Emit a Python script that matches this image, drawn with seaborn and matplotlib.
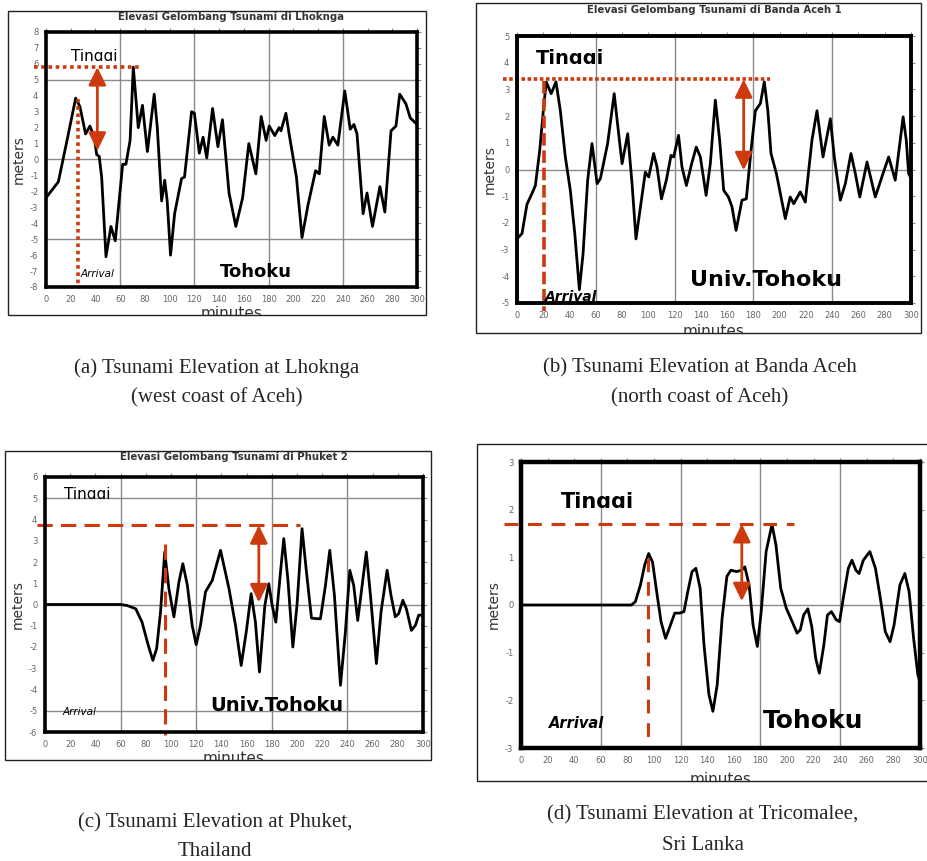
import matplotlib
matplotlib.use("Agg")
import matplotlib.pyplot as plt
import seaborn as sns
from matplotlib.patches import Rectangle
from matplotlib.transforms import Bbox, TransformedBbox

# ---------------- data ----------------
minutes_ticks = list(range(0, 301, 20))

lhoknga_t = [0, 10, 17, 24, 27.5, 32, 35.5, 39, 41, 43, 45, 48.5, 52.5, 56, 62, 64.6, 68, 70.6, 74.6, 78,
             82, 87.5, 90, 93.5, 96, 98, 100.7, 104, 109.6, 112, 117.7, 120, 124, 127, 130, 134.7, 139,
             142.7, 148, 153.5, 159, 164, 169.7, 174, 178, 180.5, 185, 188.5, 190, 194, 196.6, 202.5,
             207, 212, 218, 221, 225, 229, 232, 236, 241.6, 246, 249, 251.5, 256.4, 259.6, 264, 270,
             274, 279, 283, 286, 291, 294.6, 298, 300]
lhoknga_m = [-2.4, -1.4, 1.2, 3.85, 3.3, 1.6, 2.1, 1.4, 0.3, 0.2, -1.1, -6.1, -4.2, -5.1, -0.3, -0.3, 1.2,
             5.8, 2.0, 3.4, 0.5, 4.1, 2.0, -2.6, -1.3, -2.6, -6.0, -3.4, -1.2, -1.1, 3.0, 2.9, 0.4, 1.4,
             0.1, 3.2, 0.8, 2.5, -2.1, -4.2, -2.4, 1.0, -0.9, 2.7, 1.2, 2.1, 1.5, 2.0, 1.8, 2.9, 1.6,
             -1.1, -4.9, -2.8, -0.7, -0.9, 2.7, 0.9, 1.4, 0.9, 4.3, 1.9, 2.2, 1.6, -3.4, -2.1, -4.2,
             -1.7, -3.3, 1.8, 2.1, 4.1, 3.5, 2.6, 2.35, 2.2]

banda_t = [0, 3.8, 7.6, 11.4, 14, 17.3, 20.3, 22.3, 26, 29.7, 33, 36.8, 40.6, 44, 47.5, 50.3, 53.8, 57.1,
           61, 63.5, 69, 74, 77.4, 80, 84.3, 87.6, 90.6, 94, 97.7, 100.3, 104, 106.6, 110, 113.7, 117.3,
           119.3, 123, 125.6, 129, 133, 136.5, 139.6, 144, 147.2, 151, 154.3, 157.4, 161, 163.7, 166.8,
           171.3, 174.6, 178.2, 181.5, 185.3, 188.3, 191, 193.4, 197.5, 204.3, 208, 210.7, 215.7, 219.5,
           224.6, 228.4, 233, 238.6, 241.6, 246.2, 250, 254.3, 257.6, 261, 266.5, 272.8, 278.7, 283,
           288, 294, 296.4, 298.2, 299.5]
banda_m = [-2.6, -2.4, -1.3, -0.9, -0.6, 0.72, 2.34, 3.28, 2.84, 3.28, 2.2, 0.47, -0.78, -2.4, -4.5,
           -3.15, -0.4, 0.97, -0.53, -0.34, 0.97, 2.84, 1.34, 0.22, 1.34, -0.53, -2.6, -1.4, -0.1, -0.28,
           0.6, 0.1, -1.1, -0.4, 0.53, 0.47, 1.28, 0.1, -0.6, 0.22, 0.84, 0.47, -0.97, 0.22, 2.6, 1.1,
           -0.78, -1.03, -1.4, -2.28, -1.15, -1.1, 0.72, 2.2, 2.47, 3.28, 2.2, 0.6, -0.15, -1.84, -1.03,
           -1.28, -0.84, -1.22, 1.1, 2.2, 0.47, 1.9, 0.47, -1.15, -0.53, 0.6, -0.15, -1.03, 0.28, -1.03,
           -0.15, 0.47, -0.4, 1.97, 1.1, -0.15, -0.28]

phuket_t = [0, 60, 65.3, 72, 77, 82, 85.6, 88.6, 91.7, 95, 98.3, 102.3, 106.3, 109.4, 113, 116.8, 120,
            123.4, 127.4, 132.7, 139.3, 146, 151.2, 155.7, 159.7, 163.6, 167, 170.2, 174.5, 177.6, 180.3,
            183.2, 186.9, 189.5, 192.7, 196.7, 200, 204, 207.5, 211.5, 216, 218.6, 222.6, 226, 229.7,
            234.5, 238.4, 241.9, 245, 248.2, 251.7, 255, 258.3, 263, 266.7, 271.5, 274.6, 278, 280.7,
            284, 286.8, 290.8, 294, 296.6, 298.4, 300]
phuket_m = [0, 0, -0.05, -0.2, -0.83, -1.93, -2.63, -2.08, -0.35, 2.47, 0.75, -0.58, 1.06, 1.92, 0.9,
            -0.98, -1.89, -0.98, 0.6, 1.13, 2.55, 0.75, -0.98, -2.87, -1.3, 0.51, -0.83, -3.18, -0.04,
            0.98, -0.04, -0.83, 1.53, 3.1, 1.22, -2.0, -0.04, 3.57, 1.53, -0.64, -0.67, -0.67, 0.9, 2.55,
            0.43, -3.8, -1.3, 1.61, 0.9, -0.75, 0.9, 2.47, 0.43, -2.78, -0.35, 1.61, 0.43, -0.58, -0.43,
            0.2, -0.2, -1.22, -0.98, -0.5, -0.5, -0.55]

trinco_t = [0, 83, 86, 89.8, 93, 96, 98.9, 102, 105.3, 108.7, 112, 115.6, 119.3, 122.5, 125.4, 128.6,
            131.5, 134.7, 137.6, 141.3, 144.3, 147.5, 151.2, 154.8, 157.8, 162, 165.9, 168.3, 171.5,
            174.5, 177.7, 180.6, 184.3, 188.7, 191.7, 195.3, 199.5, 203.9, 207.6, 210, 212.5, 215.7,
            218.6, 221.6, 224.3, 227.7, 230.4, 233.4, 237, 239.5, 242.7, 246.1, 248.8, 251.8, 254.2,
            257.4, 262.3, 266.5, 270.2, 273.9, 277.5, 280.5, 284.9, 288.6, 291.8, 295.2, 298.4, 300]
trinco_m = [0, 0, 0.07, 0.42, 0.84, 1.08, 0.9, 0.28, -0.35, -0.7, -0.45, -0.17, -0.17, -0.14, 0.28, 0.7,
            0.77, 0.35, -0.84, -1.88, -2.23, -1.68, -0.28, 0.6, 0.73, 0.7, 0.73, 0.8, 0.42, -0.42, -0.87,
            -0.14, 1.12, 1.69, 1.26, 0.35, -0.07, -0.35, -0.59, -0.52, -0.21, -0.08, -0.45, -1.12, -1.43,
            -0.84, -0.21, -0.14, -0.31, -0.35, 0.21, 0.77, 0.94, 0.73, 0.66, 0.94, 1.12, 0.77, 0.14,
            -0.56, -0.77, -0.42, 0.42, 0.66, 0.28, -0.7, -1.47, -1.6]

titles = ["Elevasi Gelombang Tsunami di Lhoknga", "Elevasi Gelombang Tsunami di Banda Aceh 1",
          "Elevasi Gelombang Tsunami di Phuket 2", None]
captions = [("(a) Tsunami Elevation at Lhoknga", "(west coast of Aceh)"),
            ("(b) Tsunami Elevation at Banda Aceh", "(north coast of Aceh)"),
            ("(c) Tsunami Elevation at Phuket,", "Thailand"),
            ("(d) Tsunami Elevation at Tricomalee,", "Sri Lanka")]
credit_labels = ["Tohoku", "Univ.Tohoku", "Univ.Tohoku", "Tohoku"]

# annotation levels (meters / minutes)
max_level = [5.8, 3.38, 3.73, 1.70]
arrival_min = [25.6, 20.3, 95.0, 95.2]
arrival_top = [3.8, 3.3, 2.86, 0.98]
arrow_min = [41.5, 172.6, 169.7, 166.0]
arrow_low = [0.55, -0.03, 0.1, 0.08]

# ---------------- figure ----------------
W, H = 928, 861
sns.set_style("white")
plt.rcParams["font.family"] = ["DejaVu Sans"]
plt.rcParams["axes.unicode_minus"] = False
fig = plt.figure(figsize=(W / 100, H / 100), dpi=100)
fig.patch.set_facecolor("white")

RED = "#cc3a0e"


def fx(px):
    return px / W


def fy(py):
    return 1 - py / H


def add_ax(l, t, r, b):
    return fig.add_axes([fx(l), fy(b), (r - l) / W, (b - t) / H])


def frame(l, t, r, b):
    fig.patches.append(Rectangle((fx(l), fy(b)), (r - l) / W, (b - t) / H, transform=fig.transFigure,
                                 fill=False, edgecolor="#222222", lw=1.0, zorder=0))


def clip_text(ax, txt, x0, y0, x1, y1):
    txt.set_clip_box(TransformedBbox(Bbox([[x0, y0], [x1, y1]]), ax.transData))
    txt.set_clip_on(True)


panels = [
    dict(t=lhoknga_t, m=lhoknga_m, box=(46, 32, 417, 287), frame=(8, 11, 426, 315), ylim=(-8, 8),
         hgrid=[-5, 0, 5], title_y=17, spine=2.6,
         hline=(-9.4, 75.4), hstyle=(0, (1, 1)), vstyle=(0, (1, 1)), vbottom=-8, red_lw=2.6,
         tinggi=dict(x=20, y=6.18, size=11, weight="normal"), arrival=dict(x=28, y=-7.35, size=7.5),
         credit=dict(x=141, y=-7.38, size=13), minutes_y=318),
    dict(t=banda_t, m=banda_m, box=(517, 36, 911, 303), frame=(476, 3, 921, 333), ylim=(-5, 5),
         hgrid=[0], title_y=10, spine=2.8,
         hline=(-10.7, 193), hstyle=(0, (1, 0.7)), vstyle=(0, (3.5, 1.3)), vbottom=-5.3, red_lw=2.6,
         tinggi=dict(x=14, y=3.96, size=14, weight="bold"), arrival=dict(x=21, y=-4.93, size=10),
         credit=dict(x=132, y=-4.38, size=16), minutes_y=336),
    dict(t=phuket_t, m=phuket_m, box=(45, 477, 423, 732), frame=(5, 451, 431, 760), ylim=(-6, 6),
         hgrid=[-5, 0, 5], title_y=457, spine=2.6,
         hline=(-6.6, 202.7), hstyle=(0, (5, 2.7)), vstyle=(0, (5, 2.7)), vbottom=-6.15, red_lw=2.2,
         tinggi=dict(x=15, y=4.97, size=11, weight="normal"), arrival=dict(x=14, y=-5.18, size=7.5),
         credit=dict(x=131, y=-5.03, size=14), minutes_y=763),
    dict(t=trinco_t, m=trinco_m, box=(521, 462, 920, 748), frame=(477, 444, 940, 781), ylim=(-3, 3),
         hgrid=[0], title_y=None, spine=3.2,
         hline=(-12.5, 205), hstyle=(0, (4.5, 3.2)), vstyle=(0, (4.5, 3.2)), vbottom=-2.86, red_lw=2.2,
         tinggi=dict(x=30, y=2.04, size=15, weight="bold"), arrival=dict(x=21, y=-2.57, size=10.5),
         credit=dict(x=182, y=-2.57, size=18), minutes_y=784),
]

for i, p in enumerate(panels):
    ax = add_ax(*p["box"])
    frame(*p["frame"])
    ax.set_xlim(0, 300)
    ax.set_ylim(*p["ylim"])
    ax.set_xticks(minutes_ticks)
    ax.set_yticks(list(range(p["ylim"][0], p["ylim"][1] + 1)))
    ax.tick_params(axis="both", which="both", direction="out", length=3, width=0.8, color="#888888",
                   labelsize=6, labelcolor="#666666", pad=2.5, top=True, right=True,
                   labeltop=False, labelright=False)
    for s in ax.spines.values():
        s.set_linewidth(p["spine"])
        s.set_color("black")
        s.set_zorder(5)
    for gx in [60, 120, 180, 240]:
        ax.axvline(gx, color="#8a8a8a", lw=1.0, zorder=1)
    for gy in p["hgrid"]:
        ax.axhline(gy, color="#8a8a8a", lw=1.0, zorder=1)

    sns.lineplot(x=p["t"], y=p["m"], ax=ax, color="black", lw=2.0, estimator=None, sort=False,
                 zorder=3)

    ax.set_ylabel("meters", fontsize=10, color="#333333", labelpad=3)
    ax.set_xlabel("")

    # title
    if titles[i]:
        l, t, r, b = p["box"]
        fig.text(fx((l + r) / 2), fy(p["title_y"]), titles[i], ha="center", va="center",
                 fontsize=7.3, fontweight="bold", color="#333333")
    # minutes label, cut by frame
    l, t, r, b = p["box"]
    mt = fig.text(fx((l + r) / 2), fy(p["minutes_y"]), "minutes", ha="center", va="baseline",
                  fontsize=11, color="#333333")
    fl, ft, fr, fb = p["frame"]
    mt.set_clip_box(TransformedBbox(Bbox([[fx(fl), fy(fb)], [fx(fr), fy(ft)]]), fig.transFigure))
    mt.set_clip_on(True)

    # red annotation lines
    lvl = max_level[i]
    ax.plot(list(p["hline"]), [lvl, lvl], color=RED, lw=p["red_lw"], linestyle=p["hstyle"],
            clip_on=False, zorder=4, solid_capstyle="butt", dash_capstyle="butt")
    ax.plot([arrival_min[i], arrival_min[i]], [arrival_top[i], p["vbottom"]], color=RED,
            lw=p["red_lw"], linestyle=p["vstyle"], clip_on=False, zorder=4, dash_capstyle="butt")
    ax.annotate("", xy=(arrow_min[i], arrow_low[i]), xytext=(arrow_min[i], lvl),
                arrowprops=dict(arrowstyle="<|-|>,head_length=0.45,head_width=0.22", color=RED,
                                lw=2.0, mutation_scale=24, shrinkA=0, shrinkB=0), zorder=4)

    # texts
    tg = p["tinggi"]
    txt = ax.text(tg["x"], tg["y"], "Tinggi", fontsize=tg["size"], fontweight=tg["weight"],
                  color="black", ha="left", va="baseline", zorder=6)
    clip_text(ax, txt, -20, tg["y"], 320, p["ylim"][1] + 5)
    ar = p["arrival"]
    ax.text(ar["x"], ar["y"], "Arrival", fontsize=ar["size"], fontstyle="italic",
            fontweight="bold" if i in (1, 3) else "normal", color="black", ha="left",
            va="baseline", zorder=6)
    cr = p["credit"]
    ax.text(cr["x"], cr["y"], credit_labels[i], fontsize=cr["size"], fontweight="bold",
            color="black", ha="left", va="baseline", zorder=6)

# captions
cap_pos = [(217, 368, 398), (700, 368, 398), (215, 823, 851), (703, 815, 845)]
for (c1, c2), (cx, y1, y2) in zip(captions, cap_pos):
    fig.text(fx(cx), fy(y1), c1, ha="center", va="center", fontsize=15, family="Liberation Serif")
    fig.text(fx(cx), fy(y2), c2, ha="center", va="center", fontsize=15, family="Liberation Serif")

fig.savefig("out.png", dpi=100, facecolor="white")
